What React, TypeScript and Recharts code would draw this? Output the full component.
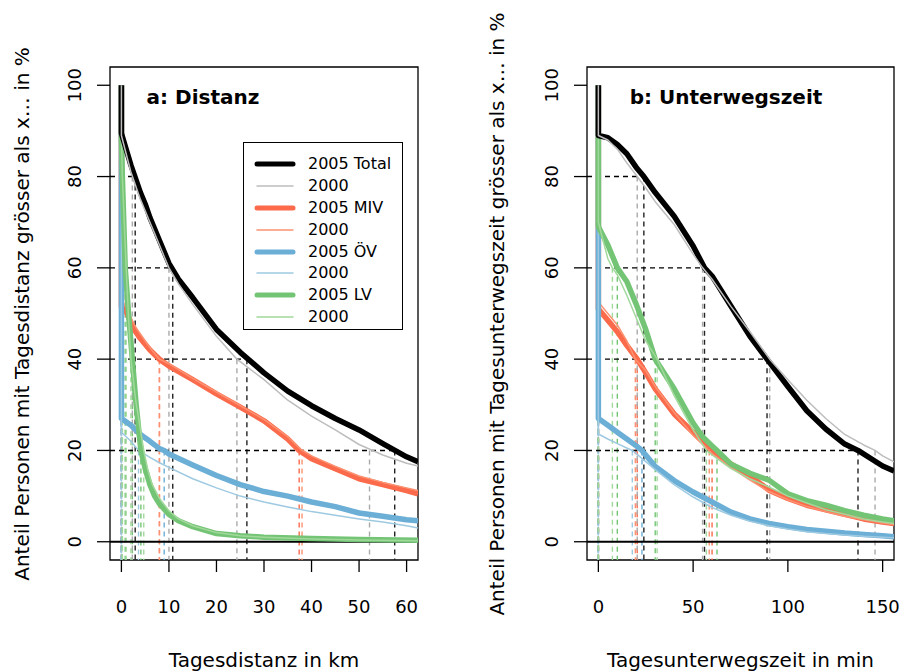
import { LineChart, Line, XAxis, YAxis, ReferenceLine, ReferenceArea, Legend } from 'recharts'

type Pt = [number, number]

const FONT = '"DejaVu Sans", Verdana, sans-serif'

// Quantile levels (% of persons) with dashed guide lines
const levels = [80, 60, 40, 20]
const yTicks = [0, 20, 40, 60, 80, 100]
const distTicks = [0, 10, 20, 30, 40, 50, 60]
const timeTicks = [0, 50, 100, 150]

// a: Tagesdistanz in km
const distTotal05: Pt[] = [[0, 100], [0, 89.5], [1, 86], [2, 82.5], [3, 79.5], [4, 76.5], [5, 74], [6, 71], [7, 68.5], [8, 66], [9, 63.5], [10, 61], [12, 57.5], [15, 53.5], [20, 46.5], [25, 41.5], [30, 37], [35, 33], [40, 29.8], [45, 27], [50, 24.5], [55, 21.5], [60, 18.6], [62.4, 17.5]]
const distTotal00: Pt[] = [[0, 100], [0, 89], [1, 85], [2, 81], [3, 78], [4, 75], [5, 72.5], [6, 70], [7, 67.5], [8, 65], [9, 62.5], [10, 60], [12, 56.5], [15, 52], [20, 45], [24.3, 40], [30, 35.5], [35, 31], [40, 27.5], [45, 24.5], [50, 21.3], [55, 19], [60, 17.2], [62.4, 16.6]]
const distMiv05: Pt[] = [[0, 100], [0, 51.5], [1, 50.5], [2, 48], [3, 46], [4, 44.5], [6, 42], [8, 40], [10, 38.5], [15, 35.5], [20, 32.4], [25, 29.5], [30, 26.5], [35, 22.5], [37.4, 20], [40, 18.2], [45, 16], [50, 13.8], [55, 12.5], [60, 11.2], [62.4, 10.5]]
const distMiv00: Pt[] = [[0, 100], [0, 53], [1, 51.5], [2, 49], [3, 47], [4, 45.5], [6, 42.5], [8, 40], [10, 39], [15, 35.8], [20, 32.8], [25, 29.8], [30, 26.8], [35, 23], [38, 20], [40, 18.8], [45, 16.5], [50, 14.4], [55, 13], [60, 11.8], [62.4, 11.2]]
const distOev05: Pt[] = [[0, 100], [0, 27], [2, 25.5], [4, 23.5], [6, 22], [8, 20.4], [9, 20], [10, 19.2], [15, 16.8], [20, 14.5], [25, 12.5], [30, 11], [35, 10], [40, 8.7], [45, 7.7], [50, 6.3], [55, 5.6], [60, 4.8], [62.4, 4.6]]
const distOev00: Pt[] = [[0, 100], [0, 24], [1, 23], [2, 22], [3.6, 20], [6, 18.5], [8, 17.3], [10, 16.3], [15, 13.8], [20, 11.8], [25, 10], [30, 8.7], [35, 7.6], [40, 6.6], [45, 5.8], [50, 5], [55, 4.3], [60, 3.5], [62.4, 3]]
const distLv05: Pt[] = [[0, 100], [0, 89], [0.2, 80], [0.5, 70], [0.8, 60], [1.5, 50], [2.3, 40], [3.1, 30], [4.1, 20], [5, 16], [6, 12.5], [7, 10], [8, 8.3], [10, 6], [12, 4.6], [15, 3.3], [20, 1.8], [25, 1.3], [30, 1], [40, 0.7], [50, 0.5], [62.4, 0.3]]
const distLv00: Pt[] = [[0, 100], [0, 89], [0.2, 80], [0.6, 70], [1, 60], [1.5, 49], [2, 40], [3, 31], [4.7, 20], [5.5, 16], [6.5, 12.5], [8, 9.5], [10, 6.8], [12, 5], [15, 3.5], [20, 2], [25, 1.3], [30, 1], [40, 0.6], [50, 0.4], [62.4, 0.2]]

// x where each curve crosses 80/60/40/20 %
const distTotal05Q = [2.9, 10.8, 26.4, 57.5]
const distTotal00Q = [2.3, 10.0, 24.3, 52.2]
const distMiv05Q = [0, 0, 8.0, 37.4]
const distMiv00Q = [0, 0, 8.0, 38.0]
const distOev05Q = [0, 0, 0, 9.0]
const distOev00Q = [0, 0, 0, 3.6]
const distLv05Q = [0.2, 0.8, 2.3, 4.1]
const distLv00Q = [0.2, 1.0, 2.0, 4.7]

// b: Tagesunterwegszeit in min
const timeTotal05: Pt[] = [[0, 100], [0, 89], [5, 88.5], [10, 87], [15, 85], [20, 82], [24, 80], [30, 76.5], [40, 71.3], [50, 64.8], [56, 60], [60, 58.2], [70, 51.6], [80, 45], [89, 40], [100, 34], [110, 28.7], [120, 24.7], [130, 21.4], [137, 20], [150, 16.6], [156, 15.5]]
const timeTotal00: Pt[] = [[0, 100], [0, 89], [5, 88], [10, 86], [15, 83], [20.5, 80], [25, 77.5], [30, 74.5], [40, 69.5], [50, 63], [55, 60], [60, 57.5], [70, 51.5], [80, 46], [90.4, 40], [100, 35.5], [110, 31], [120, 27], [130, 23.5], [140, 21.2], [146, 20], [150, 18.8], [156, 17.5]]
const timeMiv05: Pt[] = [[0, 100], [0, 51], [5, 48.5], [10, 46], [15, 43], [20.5, 40], [25, 37], [30, 33.5], [40, 28], [50, 24], [60, 20], [70, 17], [80, 14.5], [90, 11.3], [100, 9.5], [110, 8], [120, 7], [130, 6], [140, 5], [150, 4.3], [156, 4]]
const timeMiv00: Pt[] = [[0, 100], [0, 52.5], [5, 50], [10, 47.5], [15, 44], [19.5, 40], [25, 37.5], [30, 34], [40, 28.3], [50, 23.3], [58.5, 20], [60, 19.3], [70, 16.3], [80, 13.5], [90, 11], [100, 9.2], [110, 7.7], [120, 6.6], [130, 5.6], [140, 4.8], [150, 4.1], [156, 3.7]]
const timeOev05: Pt[] = [[0, 100], [0, 27], [5, 25.5], [10, 24], [15, 22.5], [20, 21], [23, 20], [30, 16.5], [40, 13.4], [50, 10.9], [60, 8.7], [70, 6.5], [80, 5], [90, 4], [100, 3.3], [110, 2.7], [120, 2.3], [130, 1.9], [140, 1.6], [150, 1.3], [156, 1.1]]
const timeOev00: Pt[] = [[0, 100], [0, 23.6], [5, 22.5], [10, 21.5], [17.9, 20], [20, 19.3], [30, 15.8], [40, 12.5], [50, 9.8], [60, 7.5], [70, 5.8], [80, 4.5], [90, 3.5], [100, 2.8], [110, 2.2], [120, 1.8], [130, 1.5], [140, 1.2], [150, 1], [156, 0.9]]
const timeLv05: Pt[] = [[0, 100], [0, 69], [5, 65], [10, 60], [15, 57], [20, 52], [25, 46.5], [30, 40], [40, 33.5], [50, 26], [55, 23], [60, 21], [62.6, 20], [70, 17], [80, 15], [90, 13.5], [100, 10.5], [110, 9], [120, 8], [130, 6.8], [140, 5.8], [150, 5], [156, 4.6]]
const timeLv00: Pt[] = [[0, 100], [0, 70], [5, 62], [7.4, 60], [10, 58.5], [15, 54], [20, 49], [25, 44], [31, 40], [40, 32], [50, 24.5], [57, 20], [60, 19], [70, 16], [80, 13.8], [90, 12], [100, 10], [110, 8.5], [120, 7], [130, 6], [140, 5], [150, 4.3], [156, 4]]

const timeTotal05Q = [24, 56, 89, 137]
const timeTotal00Q = [20.5, 55, 90.4, 146]
const timeMiv05Q = [0, 0, 20.5, 60]
const timeMiv00Q = [0, 0, 19.5, 58.5]
const timeOev05Q = [0, 0, 0, 23]
const timeOev00Q = [0, 0, 0, 17.9]
const timeLv05Q = [0, 10, 30, 62.6]
const timeLv00Q = [0, 7.4, 31, 57]

const colors = {
  total05: '#000000', total00: '#bdbdbd',
  miv05: '#fb6a4a', miv00: '#fc9272',
  oev05: '#6baed6', oev00: '#9ecae1',
  lv05: '#74c476', lv00: '#a1d99b',
}
const guideColors = {
  total05: '#222222', total00: '#aaaaaa',
  miv05: '#fb6a4a', miv00: '#fc9272',
  oev05: '#6baed6', oev00: '#9ecae1',
  lv05: '#74c476', lv00: '#a1d99b',
}

const THICK = 5.5
const THIN = 1.5

const legendItems = [
  { label: '2005 Total', color: colors.total05, w: 5 },
  { label: '2000', color: colors.total00, w: 1.5 },
  { label: '2005 MIV', color: colors.miv05, w: 5 },
  { label: '2000', color: colors.miv00, w: 1.5 },
  { label: '2005 ÖV', color: colors.oev05, w: 5 },
  { label: '2000', color: colors.oev00, w: 1.5 },
  { label: '2005 LV', color: colors.lv05, w: 5 },
  { label: '2000', color: colors.lv00, w: 1.5 },
]

interface Series {
  key: keyof typeof colors
  pts: Pt[]
  q: number[]
}

// drawing order: MIV, ÖV, LV, Total (2005 thick first, 2000 thin on top)
const distSeries: Series[] = [
  { key: 'miv05', pts: distMiv05, q: distMiv05Q },
  { key: 'miv00', pts: distMiv00, q: distMiv00Q },
  { key: 'oev05', pts: distOev05, q: distOev05Q },
  { key: 'oev00', pts: distOev00, q: distOev00Q },
  { key: 'lv05', pts: distLv05, q: distLv05Q },
  { key: 'lv00', pts: distLv00, q: distLv00Q },
  { key: 'total05', pts: distTotal05, q: distTotal05Q },
  { key: 'total00', pts: distTotal00, q: distTotal00Q },
]

const timeSeries: Series[] = [
  { key: 'miv05', pts: timeMiv05, q: timeMiv05Q },
  { key: 'miv00', pts: timeMiv00, q: timeMiv00Q },
  { key: 'oev05', pts: timeOev05, q: timeOev05Q },
  { key: 'oev00', pts: timeOev00, q: timeOev00Q },
  { key: 'lv05', pts: timeLv05, q: timeLv05Q },
  { key: 'lv00', pts: timeLv00, q: timeLv00Q },
  { key: 'total05', pts: timeTotal05, q: timeTotal05Q },
  { key: 'total00', pts: timeTotal00, q: timeTotal00Q },
]

const Y_MIN = -4
const Y_MAX = 104

const XTick = (props: any) => {
  const { x, y, payload } = props
  return (
    <text x={x} y={y + 32} textAnchor="middle" dominantBaseline="central" fontSize={18} fontFamily={FONT} fill="#000">
      {payload.value}
    </text>
  )
}

const YTick = (props: any) => {
  const { x, y, payload } = props
  const cx = x - 20
  return (
    <text x={cx} y={y} transform={`rotate(-90, ${cx}, ${y})`} textAnchor="middle" dominantBaseline="central" fontSize={18} fontFamily={FONT} fill="#000">
      {payload.value}
    </text>
  )
}

const LegendBox = () => (
  <div
    style={{
      width: 160,
      height: 188,
      border: '1.3px solid #000',
      background: '#fff',
      boxSizing: 'border-box',
      fontFamily: FONT,
      fontSize: 16,
      color: '#000',
      paddingTop: 10,
    }}
  >
    {legendItems.map((it, i) => (
      <div key={i} style={{ display: 'flex', alignItems: 'center', height: 21.9, lineHeight: '21.9px' }}>
        <svg width={64} height={10} style={{ flex: 'none' }}>
          <line x1={13} x2={49} y1={5} y2={5} stroke={it.color} strokeWidth={it.w} strokeLinecap="round" />
        </svg>
        <span>{it.label}</span>
      </div>
    ))}
  </div>
)

interface PanelProps {
  left: number
  marginLeft: number
  marginRight: number
  xDomain: [number, number]
  xTicks: number[]
  series: Series[]
  title: string
  titleX: number
  xLabel: string
  yLabel: string
  yLabelX: number
  legend?: boolean
}

const Panel = ({ left, marginLeft, marginRight, xDomain, xTicks, series, title, titleX, xLabel, yLabel, yLabelX, legend }: PanelProps) => {
  const width = 452
  const height = 671
  const plotLeft = marginLeft + 50
  const plotRight = width - marginRight
  const total05 = series.find((s) => s.key === 'total05')!
  return (
    <div style={{ position: 'absolute', left, top: 0 }}>
      <LineChart width={width} height={height} margin={{ top: 67, right: marginRight, bottom: 61, left: marginLeft }}>
        <XAxis
          type="number"
          dataKey="x"
          domain={xDomain}
          ticks={xTicks}
          interval={0}
          allowDataOverflow
          axisLine={false}
          tickLine={{ stroke: '#000', strokeWidth: 1.3 }}
          tickSize={12}
          height={50}
          tick={<XTick />}
        />
        <YAxis
          type="number"
          dataKey="y"
          domain={[Y_MIN, Y_MAX]}
          ticks={yTicks}
          interval={0}
          allowDataOverflow
          axisLine={false}
          tickLine={{ stroke: '#000', strokeWidth: 1.3 }}
          tickSize={13}
          width={50}
          tick={<YTick />}
        />
        {series.map((s) =>
          s.q.map((q, i) => (
            <ReferenceLine
              key={`${s.key}-v${i}`}
              segment={[{ x: q, y: levels[i] }, { x: q, y: Y_MIN }]}
              stroke={guideColors[s.key]}
              strokeWidth={1.4}
              strokeDasharray="5 4"
            />
          )),
        )}
        {levels.map((lv, i) => (
          <ReferenceLine
            key={`h${lv}`}
            segment={[{ x: xDomain[0], y: lv }, { x: total05.q[i], y: lv }]}
            stroke="#000"
            strokeWidth={1.4}
            strokeDasharray="5 4"
          />
        ))}
        <ReferenceLine y={0} stroke="#000" strokeWidth={2} />
        {series.map((s) => (
          <Line
            key={s.key}
            data={s.pts.map(([x, y]) => ({ x, y }))}
            dataKey="y"
            type="linear"
            stroke={colors[s.key]}
            strokeWidth={s.key.endsWith('05') ? THICK : THIN}
            strokeLinejoin="round"
            dot={false}
            activeDot={false}
            legendType="none"
            isAnimationActive={false}
          />
        ))}
        <ReferenceArea x1={xDomain[0]} x2={xDomain[1]} y1={Y_MIN} y2={Y_MAX} fill="none" stroke="#000" strokeWidth={1.3} />
        {legend && (
          <Legend
            layout="horizontal"
            align="center"
            verticalAlign="middle"
            content={() => <LegendBox />}
            wrapperStyle={{ left: 243, top: 142, width: 160, height: 188 }}
          />
        )}
        <text x={titleX} y={97} textAnchor="middle" dominantBaseline="central" fontSize={20} fontWeight="bold" fontFamily={FONT} fill="#000">
          {title}
        </text>
        <text x={(plotLeft + plotRight) / 2} y={660} textAnchor="middle" dominantBaseline="central" fontSize={20} fontFamily={FONT} fill="#000">
          {xLabel}
        </text>
        <text
          x={yLabelX}
          y={314}
          transform={`rotate(-90, ${yLabelX}, 314)`}
          textAnchor="middle"
          dominantBaseline="central"
          fontSize={20}
          fontFamily={FONT}
          fill="#000"
        >
          {yLabel}
        </text>
      </LineChart>
    </div>
  )
}

export default function App() {
  return (
    <div style={{ position: 'absolute', left: 0, top: 0, width: 904, height: 671, background: '#fff' }}>
      <Panel
        left={0}
        marginLeft={60}
        marginRight={34}
        xDomain={[-2.4, 62.4]}
        xTicks={distTicks}
        series={distSeries}
        title="a: Distanz"
        titleX={203}
        xLabel="Tagesdistanz in km"
        yLabel="Anteil Personen mit Tagesdistanz grösser als x… in %"
        yLabelX={22}
        legend
      />
      <Panel
        left={452}
        marginLeft={85}
        marginRight={10}
        xDomain={[-6, 156]}
        xTicks={timeTicks}
        series={timeSeries}
        title="b: Unterwegszeit"
        titleX={274}
        xLabel="Tagesunterwegszeit in min"
        yLabel="Anteil Personen mit Tagesunterwegszeit grösser als x… in %"
        yLabelX={45}
      />
    </div>
  )
}
